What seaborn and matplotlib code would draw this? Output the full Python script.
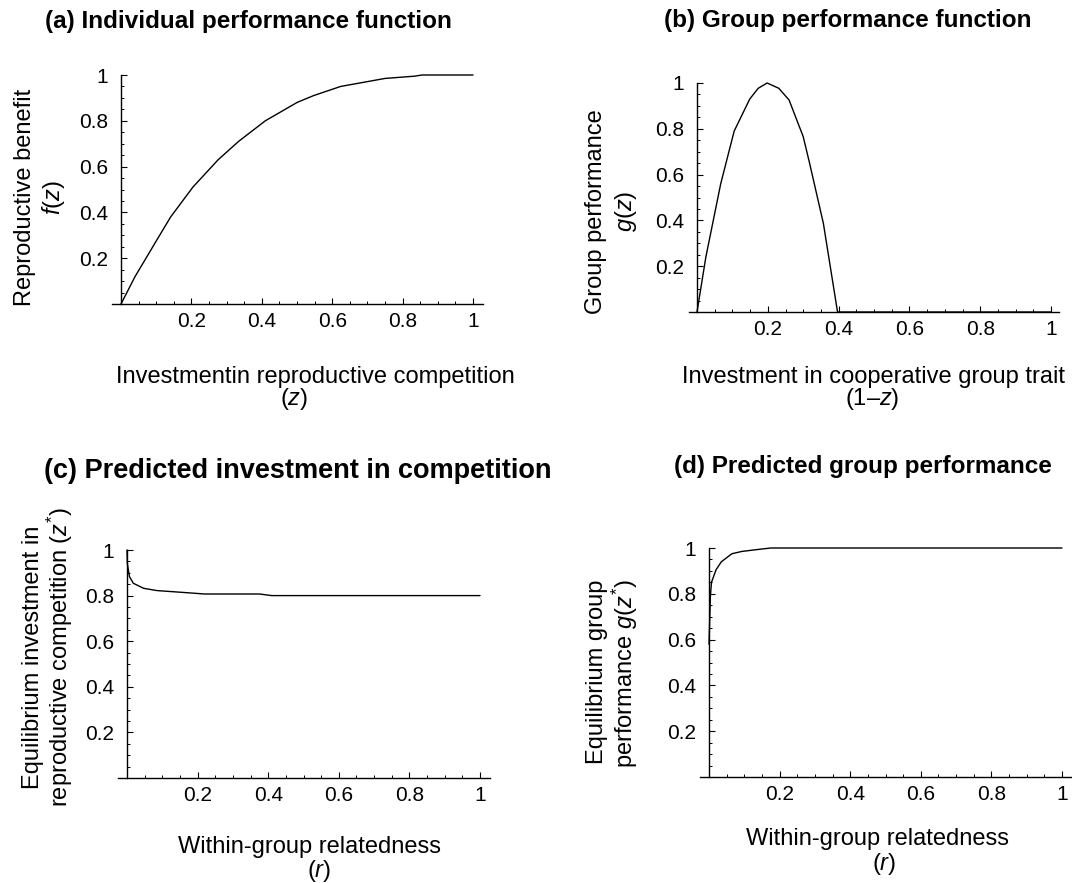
import numpy as np
import pandas as pd
import matplotlib
matplotlib.use("Agg")
import matplotlib.pyplot as plt
import seaborn as sns
from matplotlib.ticker import FixedLocator, MultipleLocator

sns.set_style("white")
plt.rcParams['font.family'] = ['Liberation Sans', 'DejaVu Sans']
plt.rcParams['mathtext.fontset'] = 'custom'
plt.rcParams['mathtext.rm'] = 'Liberation Sans'
plt.rcParams['mathtext.it'] = 'Liberation Sans:italic'
plt.rcParams['mathtext.bf'] = 'Liberation Sans:bold'
plt.rcParams['text.color'] = 'black'
plt.rcParams['axes.labelcolor'] = 'black'
plt.rcParams['xtick.color'] = 'black'
plt.rcParams['ytick.color'] = 'black'

# ---------------- data ----------------
# (a) individual performance function f(z)
a_z = [0.0, 0.04, 0.102, 0.141, 0.204, 0.276, 0.334, 0.41, 0.50, 0.547, 0.624, 0.75, 0.835, 0.855, 1.0]
a_f = [0.0, 0.12, 0.28, 0.38, 0.51, 0.63, 0.71, 0.80, 0.88, 0.91, 0.95, 0.985, 0.995, 1.0, 1.0]

# (b) group performance function g(z) vs (1-z)
b_x = [0.0, 0.025, 0.067, 0.105, 0.149, 0.173, 0.198, 0.231, 0.26, 0.30, 0.318, 0.357, 0.397, 0.6, 0.8, 1.0]
b_g = [0.0, 0.24, 0.56, 0.79, 0.93, 0.977, 1.0, 0.977, 0.926, 0.766, 0.65, 0.387, 0.0, 0.0, 0.0, 0.0]

# (c) equilibrium investment z* vs relatedness r
c_r = [0.0, 0.001, 0.007, 0.018, 0.047, 0.085, 0.14, 0.194, 0.22, 0.376, 0.41, 0.6, 0.8, 1.0]
c_z = [1.0, 0.94, 0.883, 0.854, 0.832, 0.822, 0.816, 0.81, 0.807, 0.807, 0.80, 0.80, 0.80, 0.80]

# (d) equilibrium group performance g(z*) vs r
d_r = [0.0, 0.004, 0.007, 0.02, 0.035, 0.065, 0.093, 0.13, 0.175, 0.4, 0.6, 0.8, 1.0]
d_g = [0.58, 0.79, 0.85, 0.905, 0.94, 0.975, 0.985, 0.992, 1.0, 1.0, 1.0, 1.0, 1.0]

major_ticks = [0.2, 0.4, 0.6, 0.8, 1.0]
tick_labels = ["0.2", "0.4", "0.6", "0.8", "1"]

titles = ["(a) Individual performance function",
          "(b) Group performance function",
          "(c) Predicted investment in competition",
          "(d) Predicted group performance"]

W, H = 1072, 883
fig = plt.figure(figsize=(W / 100, H / 100), dpi=100)


def fx(x):
    return x / W


def fy(y):
    return 1 - y / H


def make_ax(ox, oy, x1, y1, xl, xr, ytop=1.03):
    sx = x1 - ox
    sy = oy - y1
    ax = fig.add_axes([xl / W, (H - oy) / H, (xr - xl) / W, ytop * sy / H])
    ax.set_xlim((xl - ox) / sx, (xr - ox) / sx)
    ax.set_ylim(0, ytop)
    for s in ['top', 'right']:
        ax.spines[s].set_visible(False)
    ax.spines['left'].set_position(('data', 0))
    ax.spines['left'].set_bounds(0, 1)
    for s in ['left', 'bottom']:
        ax.spines[s].set_linewidth(1.0)
        ax.spines[s].set_color('black')
    ax.xaxis.set_major_locator(FixedLocator(major_ticks))
    ax.xaxis.set_minor_locator(MultipleLocator(0.05))
    ax.yaxis.set_major_locator(FixedLocator(major_ticks))
    ax.yaxis.set_minor_locator(MultipleLocator(0.05))
    ax.set_xticklabels(tick_labels)
    ax.set_yticklabels(tick_labels)
    ax.tick_params(which='both', bottom=True, left=True, top=False, right=False)
    ax.tick_params(which='major', direction='in', length=4.5, width=0.8, color='black',
                   labelsize=15, labelcolor='black')
    ax.tick_params(axis='x', which='major', pad=6)
    ax.tick_params(axis='y', which='major', pad=9.5)
    ax.tick_params(which='minor', direction='in', length=2.2, width=0.7, color='black')
    ax.grid(False)
    ax.set_facecolor('none')
    return ax


axes = [
    make_ax(121, 304, 473, 75, 112, 483),
    make_ax(697, 312, 1051, 83, 689, 1059),
    make_ax(127, 778, 480, 550, 118, 490),
    make_ax(709, 777, 1062, 548, 700, 1071),
]

series = [(a_z, a_f), (b_x, b_g), (c_r, c_z), (d_r, d_g)]
for ax, (xs, ys) in zip(axes, series):
    df = pd.DataFrame({"x": xs, "y": ys})
    sns.lineplot(data=df, x="x", y="y", ax=ax, color='black', linewidth=1.0,
                 estimator=None, sort=False, clip_on=False)
    ax.set_xlabel("")
    ax.set_ylabel("")

# titles
title_pos = [(248, 28, 17.5), (848, 27, 17.5), (298, 478, 19.5), (863, 473, 17.5)]
for t, (x, y, fs) in zip(titles, title_pos):
    fig.text(fx(x), fy(y), t, ha='center', va='baseline', fontsize=fs, fontweight='bold')

# x labels (two lines each)
lab_fs = 17
xlabels = [
    ("Investmentin reproductive competition", 315, 383, "($\\mathit{z}$)", 294, 405),
    ("Investment in cooperative group trait", 873, 383, "(1\u2013$\\mathit{z}$)", 872, 405),
    ("Within-group relatedness", 310, 853, "($\\mathit{r}$)", 319, 877),
    ("Within-group relatedness", 877, 845, "($\\mathit{r}$)", 884, 870),
]
for l1, x1, y1, l2, x2, y2 in xlabels:
    fig.text(fx(x1), fy(y1), l1, ha='center', va='baseline', fontsize=lab_fs)
    fig.text(fx(x2), fy(y2), l2, ha='center', va='baseline', fontsize=lab_fs)

# y labels (rotated, two lines each)
ylabels = [
    ("Reproductive benefit", 31.5, 197, "$\\mathit{f}$($\\mathit{z}$)", 60, 198),
    ("Group performance", 602, 212, "$\\mathit{g}$($\\mathit{z}$)", 632, 211),
    ("Equilibrium investment in", 39, 657, "reproductive competition ($\\mathit{z}^{*}$)", 68, 657),
    ("Equilibrium group", 603, 672, "performance $\\mathit{g}$($\\mathit{z}^{*}$)", 633, 674),
]
for l1, x1, y1, l2, x2, y2 in ylabels:
    fig.text(fx(x1), fy(y1), l1, ha='center', va='baseline', fontsize=lab_fs,
             rotation=90, rotation_mode='anchor')
    fig.text(fx(x2), fy(y2), l2, ha='center', va='baseline', fontsize=lab_fs,
             rotation=90, rotation_mode='anchor')

fig.savefig("out.png", dpi=100, facecolor='white')
